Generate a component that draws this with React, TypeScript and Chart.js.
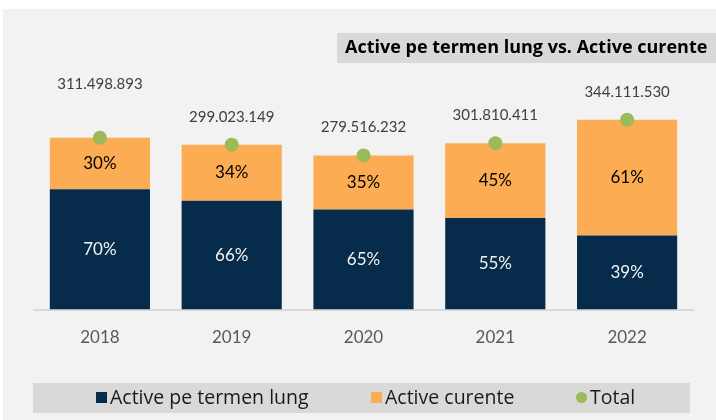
import React, { useEffect, useRef } from "react";
import { Chart, registerables } from "chart.js";

Chart.register(...registerables);

const years = ["2018", "2019", "2020", "2021", "2022"];
const totals = [311498893, 299023149, 279516232, 301810411, 344111530];
const longTermPct = [70, 66, 65, 55, 39];
const currentPct = [30, 34, 35, 45, 61];
const totalLabels = ["311.498.893", "299.023.149", "279.516.232", "301.810.411", "344.111.530"];
const titleText = "Active pe termen lung vs. Active curente";

const longTermValues = totals.map((t, i) => (t * longTermPct[i]) / 100);
const currentValues = totals.map((t, i) => (t * currentPct[i]) / 100);

const FONT = "Lato, 'Noto Sans', sans-serif";
const FONT2 = "'Open Sans', 'Noto Sans', sans-serif";

const decorPlugin = {
  id: "decor",
  beforeDraw(chart: any) {
    const { ctx, width, height } = chart;
    ctx.save();
    ctx.fillStyle = "#ffffff";
    ctx.fillRect(0, 0, width, height);
    ctx.fillStyle = "#f2f2f2";
    ctx.fillRect(3, 9, width - 3, height - 9);
    // title box
    ctx.fillStyle = "#d9d9d9";
    ctx.fillRect(337, 33, width - 337, 30);
    ctx.fillStyle = "#000000";
    ctx.font = `bold 18px ${FONT2}`;
    ctx.textBaseline = "middle";
    ctx.textAlign = "left";
    ctx.fillText(titleText, 345, 48);
    // legend box
    ctx.fillStyle = "#d9d9d9";
    ctx.fillRect(33, 383, 657, 30);
    ctx.restore();
  },
  afterDatasetsDraw(chart: any) {
    const { ctx } = chart;
    ctx.save();
    ctx.textAlign = "center";
    ctx.textBaseline = "middle";
    // percent labels
    const pctSets = [longTermPct, currentPct];
    const pctColors = ["#f2f2f2", "#000000"];
    [0, 1].forEach((di) => {
      const meta = chart.getDatasetMeta(di);
      meta.data.forEach((el: any, i: number) => {
        const cy = (el.y + el.base) / 2;
        ctx.font = `17px ${FONT}`;
        ctx.fillStyle = pctColors[di];
        ctx.fillText(pctSets[di][i] + "%", el.x, cy);
      });
    });
    // total labels
    const meta = chart.getDatasetMeta(2);
    meta.data.forEach((el: any, i: number) => {
      ctx.font = `15px ${FONT}`;
      ctx.fillStyle = "#404040";
      const off = i === 0 ? 54 : 28;
      ctx.fillText(totalLabels[i], el.x, el.y - off);
    });
    // legend
    const items = [
      { label: chart.data.datasets[0].label, color: "#072c4b", shape: "rect", x: 96 },
      { label: chart.data.datasets[1].label, color: "#fcac52", shape: "rect", x: 371 },
      { label: chart.data.datasets[2].label, color: "#9bbb59", shape: "circle", x: 576 },
    ];
    ctx.textAlign = "left";
    ctx.font = `19.5px ${FONT2}`;
    items.forEach((it) => {
      ctx.fillStyle = it.color;
      if (it.shape === "rect") {
        ctx.fillRect(it.x, 392, 11, 11);
      } else {
        ctx.beginPath();
        ctx.arc(it.x + 5.5, 397.5, 5.5, 0, Math.PI * 2);
        ctx.fill();
      }
      ctx.fillStyle = "#1a1a1a";
      ctx.fillText(it.label, it.x + 14, 398);
    });
    ctx.restore();
  },
};

export default function App() {
  const ref = useRef<HTMLCanvasElement>(null);
  useEffect(() => {
    if (!ref.current) return;
    const chart = new Chart(ref.current, {
      type: "bar",
      data: {
        labels: years,
        datasets: [
          {
            type: "bar",
            label: "Active pe termen lung",
            data: longTermValues,
            backgroundColor: "#072c4b",
            stack: "bars",
            categoryPercentage: 0.76,
            barPercentage: 1,
            order: 2,
          },
          {
            type: "bar",
            label: "Active curente",
            data: currentValues,
            backgroundColor: "#fcac52",
            stack: "bars",
            categoryPercentage: 0.76,
            barPercentage: 1,
            order: 2,
          },
          {
            type: "line",
            label: "Total",
            data: totals,
            showLine: false,
            pointRadius: 7,
            pointHoverRadius: 7,
            pointBackgroundColor: "#9bbb59",
            pointBorderWidth: 0,
            borderColor: "#9bbb59",
            backgroundColor: "#9bbb59",
            stack: "total",
            order: 1,
          } as any,
        ],
      },
      options: {
        animation: false,
        responsive: false,
        maintainAspectRatio: false,
        layout: { padding: { left: 34, right: 23, top: 89, bottom: 54 } },
        plugins: { legend: { display: false }, tooltip: { enabled: false } },
        scales: {
          x: {
            stacked: true,
            grid: { display: false, drawTicks: false },
            border: { display: true, color: "#d9d9d9", width: 2 },
            ticks: { color: "#595959", font: { family: FONT, size: 17 }, padding: 18 },
          },
          y: {
            stacked: true,
            display: false,
            min: 0,
            max: 400000000,
          },
        },
      },
      plugins: [decorPlugin],
    });
    return () => chart.destroy();
  }, []);
  return (
    <div style={{ position: "absolute", left: 0, top: 0, width: 716, height: 420 }}>
      <canvas ref={ref} width={716} height={420} style={{ display: "block", width: 716, height: 420 }} />
    </div>
  );
}
